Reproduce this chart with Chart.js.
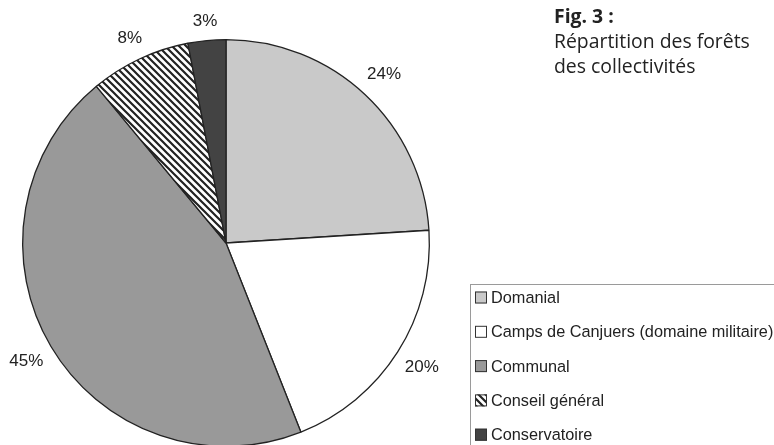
<!DOCTYPE html>
<html>
<head>
<meta charset="utf-8">
<script src="https://cdn.jsdelivr.net/npm/chart.js@4.4.0/dist/chart.umd.min.js"></script>
<style>
  html, body { margin: 0; padding: 0; background: #fff; overflow: hidden; }
  #wrap { position: relative; width: 774px; height: 445px; overflow: hidden; }
  #graphique { position: absolute; left: 0; top: 0; }
  #titre {
    position: absolute; left: 554px; top: 3px;
    font-family: "Open Sans", sans-serif; font-size: 19.4px; line-height: 25px; color: #222;
  }
  #titre b { font-weight: 700; }
</style>
</head>
<body>
<div id="wrap">
  <canvas id="graphique" width="774" height="470"></canvas>
  <div id="titre"><b>Fig. 3 :</b><br>Répartition des forêts<br>des collectivités</div>
</div>
<script>
// --- Données ---
const categories = ["Domanial", "Camps de Canjuers (domaine militaire)", "Communal", "Conseil général", "Conservatoire"];
const valeurs = [24, 20, 45, 8, 3];
const etiquettes = ["24%", "20%", "45%", "8%", "3%"];

// motif hachuré pour le conseil général
function creerHachures() {
  const c = document.createElement("canvas");
  c.width = 7; c.height = 7;
  const g = c.getContext("2d");
  g.fillStyle = "#fff";
  g.fillRect(0, 0, 7, 7);
  g.strokeStyle = "#222";
  g.lineWidth = 2.2;
  g.beginPath();
  g.moveTo(-1, -1); g.lineTo(8, 8);
  g.moveTo(-8, -1); g.lineTo(1, 8);
  g.moveTo(6, -1); g.lineTo(15, 8);
  g.stroke();
  return g.createPattern(c, "repeat");
}

const ctx = document.getElementById("graphique").getContext("2d");
const couleurs = ["#c9c9c9", "#ffffff", "#999999", creerHachures(), "#434343"];

// étiquettes en pourcentage autour du camembert (boîte de texte tangente au cercle + écart)
const pluginEtiquettes = {
  id: "etiquettes",
  afterDatasetsDraw(chart) {
    const g = chart.ctx;
    const arcs = chart.getDatasetMeta(0).data;
    g.save();
    g.font = "17px 'Liberation Sans', Arial, sans-serif";
    g.fillStyle = "#222";
    g.textAlign = "center";
    g.textBaseline = "middle";
    arcs.forEach((arc, i) => {
      const milieu = (arc.startAngle + arc.endAngle) / 2;
      const cx = Math.cos(milieu), cy = Math.sin(milieu);
      const demiL = g.measureText(etiquettes[i]).width / 2;
      const r = arc.outerRadius + 10 + Math.abs(cx) * demiL + Math.abs(cy) * 8;
      g.fillText(etiquettes[i], arc.x + cx * r, arc.y + cy * r);
    });
    g.restore();
  }
};

// légende dessinée à la main (cadre gris comme l'original)
const pluginLegende = {
  id: "legende",
  afterDraw(chart) {
    const g = chart.ctx;
    const ds = chart.data.datasets[0];
    g.save();
    g.strokeStyle = "#9a9a9a";
    g.lineWidth = 1;
    g.strokeRect(470.5, 284.5, 320, 200);
    g.font = "16.3px 'Liberation Sans', Arial, sans-serif";
    g.textBaseline = "middle";
    g.textAlign = "left";
    chart.data.labels.forEach((lab, i) => {
      const y = 297.5 + i * 34.3;
      g.fillStyle = ds.backgroundColor[i];
      g.fillRect(475, y - 6, 12, 12);
      g.strokeStyle = "#333";
      g.strokeRect(475.5, y - 5.5, 11, 11);
      g.fillStyle = "#222";
      g.fillText(lab, 491, y + 1);
    });
    g.restore();
  }
};

new Chart(ctx, {
  type: "pie",
  data: {
    labels: categories,
    datasets: [{
      data: valeurs,
      backgroundColor: couleurs,
      borderColor: "#222",
      borderWidth: 1.3,
    }],
  },
  options: {
    responsive: false,
    animation: false,
    devicePixelRatio: 1,
    layout: { padding: { left: 22, top: 39, right: 344, bottom: 23 } },
    plugins: {
      legend: { display: false },
      tooltip: { enabled: false },
    },
  },
  plugins: [pluginEtiquettes, pluginLegende],
});
</script>
</body>
</html>
